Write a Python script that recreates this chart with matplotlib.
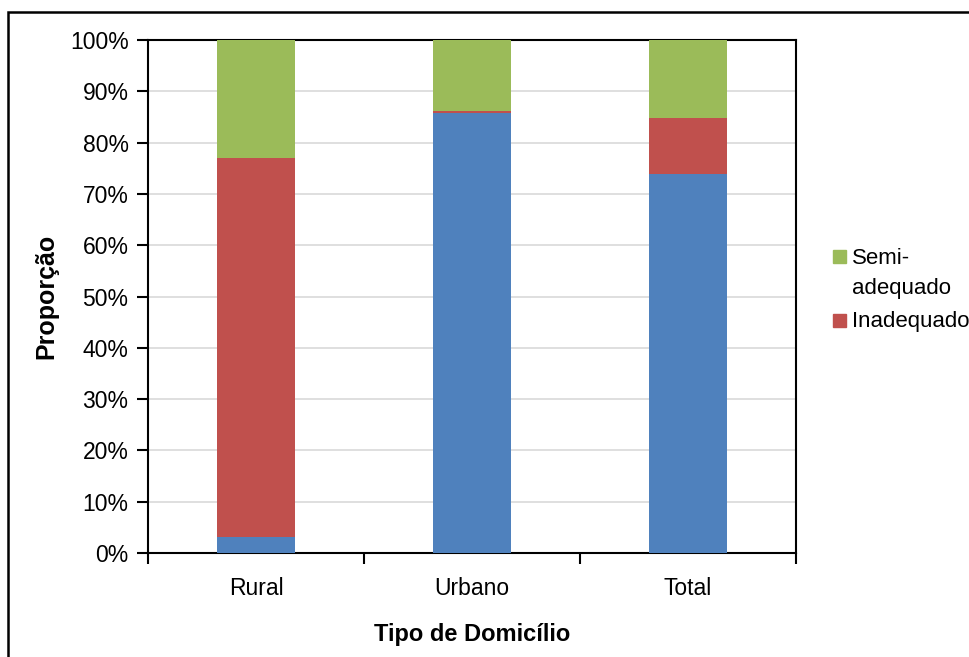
import matplotlib
matplotlib.use("Agg")
import matplotlib.pyplot as plt
from matplotlib.patches import Rectangle
from matplotlib.ticker import MultipleLocator, FuncFormatter

plt.rcParams['font.family'] = ['Liberation Sans', 'DejaVu Sans']

categories = ["Rural", "Urbano", "Total"]
adequado = [3.2, 85.7, 73.9]
inadequado = [73.8, 0.4, 10.8]
semi_adequado = [23.0, 13.9, 15.3]
legend_labels = ["Semi-\nadequado", "Inadequado"]

c_blue = "#4F81BD"
c_red = "#C0504D"
c_green = "#9BBB59"

W, H = 969, 657
fig = plt.figure(figsize=(W / 100, H / 100), dpi=100)
ax = fig.add_axes([148 / W, 1 - 553 / H, 648 / W, 513 / H])

x = list(range(len(categories)))
w = 0.357
ax.bar(x, adequado, width=w, color=c_blue, zorder=3)
ax.bar(x, inadequado, width=w, bottom=adequado, color=c_red, zorder=3)
bottom2 = [a + b for a, b in zip(adequado, inadequado)]
ax.bar(x, semi_adequado, width=w, bottom=bottom2, color=c_green, zorder=3)

ax.set_xlim(-0.5, 2.5)
ax.set_ylim(0, 100)
ax.yaxis.set_major_locator(MultipleLocator(10))
ax.yaxis.set_major_formatter(FuncFormatter(lambda v, p: f"{int(v)}%"))
ax.grid(axis='y', color='#D9D9D9', linewidth=1.2, zorder=0)

ax.set_xticks(x)
ax.set_xticklabels(categories, fontsize=16.5)
ax.tick_params(axis='x', length=0, pad=17)
ax.set_xticks([-0.5, 0.5, 1.5, 2.5], minor=True)
ax.tick_params(axis='x', which='minor', length=8, width=1.5, direction='out')
ax.tick_params(axis='y', labelsize=16.5, length=8, width=1.5, direction='out', pad=6)

for s in ax.spines.values():
    s.set_linewidth(1.5)
    s.set_color('black')

ax.set_xlabel("Tipo de Domicílio", fontsize=17, fontweight='bold', labelpad=17)
ax.set_ylabel("Proporção", fontsize=18, fontweight='bold', labelpad=8)

# Legend: square aligned with the first line of each label
legend_entries = [(legend_labels[0], c_green, 257), (legend_labels[1], c_red, 320)]
for label, color, yc in legend_entries:
    fig.add_artist(Rectangle((833 / W, 1 - (yc + 6.5) / H), 13 / W, 13 / H,
                             transform=fig.transFigure, color=color))
    fig.text(852 / W, 1 - (yc - 9) / H, label, fontsize=16, va='top', ha='left',
             linespacing=1.55)

fig.add_artist(Rectangle((8 / W, -0.05), 1.2, 1 - 12 / H + 0.05, transform=fig.transFigure,
                         fill=False, edgecolor='black', linewidth=1.8))

fig.savefig("out.png", dpi=100)
